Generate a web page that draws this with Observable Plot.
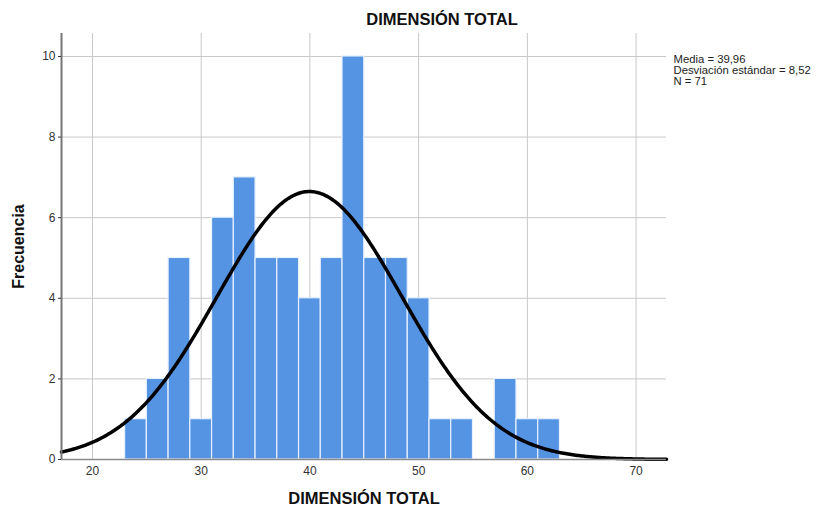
<!DOCTYPE html>
<html><head><meta charset="utf-8">
<script src="https://cdn.jsdelivr.net/npm/d3@7"></script>
<script src="https://cdn.jsdelivr.net/npm/@observablehq/plot@0.6"></script>
<style>body{margin:0;background:#fff;font-family:"Liberation Sans",Arial,sans-serif}</style>
</head><body><div id="chart"></div>
<script>
const binLower = [23,25,27,29,31,33,35,37,39,41,43,45,47,49,51,53,55,57,59,61];
const counts   = [1,2,5,1,6,7,5,5,4,5,10,5,5,4,1,1,0,2,1,1];
const binWidth = 2;
const xTicks = [20,30,40,50,60,70];
const yTicks = [0,2,4,6,8,10];
const mean = 39.96, sd = 8.52, n = 71;
const title = "DIMENSIÓN TOTAL";
const xLabel = "DIMENSIÓN TOTAL";
const yLabel = "Frecuencia";
const statsLines = ["Media = 39,96", "Desviación estándar = 8,52", "N = 71"];

const bars = binLower.map((b,i)=>({x1:b, x2:b+binWidth, y:counts[i]})).filter(d=>d.y>0);
const xDom = [17.15, 72.8];
const curve = d3.range(0, 401).map(i => {
  const x = xDom[0] + (xDom[1]-xDom[0])*i/400;
  const z = (x-mean)/sd;
  return {x, y: n*binWidth/(sd*Math.sqrt(2*Math.PI))*Math.exp(-0.5*z*z)};
});

const chart = Plot.plot({
  width: 818, height: 512,
  marginLeft: 61, marginRight: 152, marginTop: 33, marginBottom: 53,
  style: {fontFamily: '"Liberation Sans", Arial, sans-serif', fontSize: "12px", color: "#222", background: "#fff"},
  x: {domain: xDom},
  y: {domain: [0, 10.57]},
  marks: [
    Plot.gridX(xTicks.slice(0), {stroke: "#c8c8c8", strokeOpacity: 1}),
    Plot.gridY(yTicks.slice(1), {stroke: "#c8c8c8", strokeOpacity: 1}),
    Plot.rectY(bars, {x1: "x1", x2: "x2", y: "y", fill: "#5593e3", stroke: "#e6f0ff", strokeWidth: 1.2, inset: 0}),
    Plot.line(curve, {x: "x", y: "y", stroke: "#000", strokeWidth: 3.5}),
    Plot.ruleY([0], {stroke: "#8a8a8a", strokeWidth: 1.5}),
    Plot.ruleX([xDom[0]], {stroke: "#777", strokeWidth: 2}),
    Plot.axisX({ticks: xTicks, tickSize: 0, tickPadding: 7, label: null, fontSize: 12, color: "#333"}),
    Plot.axisY({ticks: yTicks, tickSize: 3, tickPadding: 3, label: null, fontSize: 12, color: "#333"}),
    Plot.text([title], {frameAnchor: "top", dx: 78, dy: -20, fontSize: 16.5, fontWeight: "bold", fill: "#111"}),
    Plot.text([xLabel], {frameAnchor: "bottom", dy: 44, fontSize: 16.5, fontWeight: "bold", fill: "#111"}),
    Plot.text([yLabel], {frameAnchor: "left", dx: -43, rotate: -90, textAnchor: "middle", fontSize: 16, fontWeight: "bold", fill: "#111"}),
    Plot.text([statsLines.join("\n")], {frameAnchor: "top-right", dx: 7, dy: 22, textAnchor: "start", lineHeight: 0.95, fontSize: 11.3, fill: "#222"})
  ]
});
document.getElementById("chart").append(chart);
</script></body></html>
